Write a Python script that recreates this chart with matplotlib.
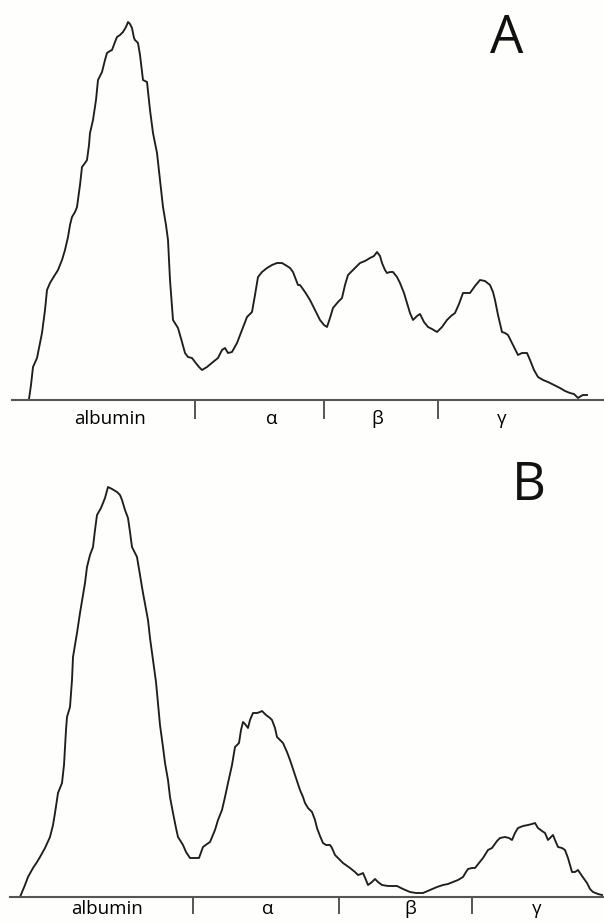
import matplotlib
matplotlib.use("Agg")
import matplotlib.pyplot as plt
from matplotlib.ticker import FixedLocator, FixedFormatter, NullFormatter

plt.rcParams['font.family'] = ['Open Sans', 'DejaVu Sans']

# ---------------- Data (migration position, densitometer height) ----------------
xA = [29, 31, 33, 37, 42, 45, 47, 50, 53, 58, 62, 65, 68, 70, 72, 75, 77, 80, 82, 85, 87, 89, 90, 93,
      96, 98, 102, 105, 107, 110, 112, 115, 117, 120, 123, 126, 128, 130, 132, 134, 135, 138, 140, 143,
      147, 150, 153, 157, 160, 163, 166, 168, 170, 173, 178, 182, 185, 188, 192, 195, 199, 202, 207, 213,
      218, 222, 225, 228, 232, 237, 242, 247, 252, 255, 258, 262, 267, 272, 277, 282, 287, 290, 293, 298,
      300, 305, 310, 315, 320, 324, 327, 330, 333, 338, 342, 345, 348, 353, 356, 360, 365, 370, 374, 377,
      380, 382, 385, 387, 390, 393, 397, 400, 404, 407, 410, 413, 417, 420, 424, 428, 432, 437, 442, 447,
      451, 455, 459, 463, 467, 470, 475, 480, 485, 490, 493, 495, 498, 502, 505, 508, 513, 518, 522, 527,
      530, 534, 538, 543, 548, 554, 560, 565, 570, 574, 578, 581, 583, 587]
yA = [1, 15, 33, 42, 67, 90, 110, 117, 122, 130, 140, 150, 163, 175, 183, 188, 193, 215, 233, 237, 240, 255, 267, 280,
      300, 320, 328, 340, 347, 349, 350, 358, 363, 365, 368, 373, 378, 376, 372, 362, 360, 357, 345, 320,
      318, 290, 267, 247, 220, 193, 175, 160, 120, 80, 72, 58, 47, 43, 42, 38, 33, 30, 33, 38,
      42, 50, 52, 47, 48, 57, 70, 83, 88, 105, 123, 128, 132, 135, 137, 137, 134, 132, 128, 115,
      115, 108, 100, 90, 80, 75, 73, 82, 92, 98, 102, 115, 125, 130, 133, 137, 139, 142, 144, 148,
      144, 137, 130, 127, 128, 128, 123, 117, 107, 97, 87, 80, 84, 86, 78, 73, 71, 68, 73, 80,
      84, 87, 96, 107, 107, 107, 114, 120, 119, 115, 108, 100, 85, 68, 67, 65, 55, 45, 47, 47,
      40, 30, 23, 20, 18, 15, 12, 9, 7, 6, 2, 4, 5, 5]

xB = [20, 25, 28, 33, 37, 40, 45, 50, 53, 55, 57, 58, 62, 64, 65, 66, 67, 70, 72, 73, 75, 77, 80, 83,
      85, 87, 90, 93, 95, 97, 101, 103, 105, 108, 112, 117, 120, 122, 125, 128, 130, 132, 137, 140,
      143, 148, 150, 153, 156, 158, 160, 163, 165, 168, 170, 173, 176, 178, 183, 186, 190, 195, 199, 203,
      207, 210, 215, 218, 222, 225, 228, 232, 235, 239, 241, 243, 245, 248, 250, 253, 257, 260, 262, 266,
      270, 272, 275, 277, 280, 283, 287, 290, 295, 300, 303, 305, 308, 312, 315, 317, 320, 323, 326, 330,
      332, 335, 338, 343, 350, 355, 358, 361, 363, 366, 368, 372, 375, 378, 382, 388, 393, 397, 403, 410,
      416, 423, 430, 437, 443, 448, 453, 458, 463, 466, 468, 472, 475, 479, 483, 488, 492, 497, 500, 505,
      509, 512, 515, 518, 523, 528, 532, 535, 538, 542, 545, 548, 550, 553, 555, 558, 562, 565, 568, 572,
      575, 578, 582, 587, 590, 593, 598, 602]
yB = [0, 12, 20, 29, 35, 40, 49, 60, 72, 84, 97, 104, 114, 132, 150, 167, 180, 190, 217, 240, 252, 264, 284, 302,
      314, 330, 342, 350, 367, 382, 389, 394, 399, 410, 408, 405, 402, 397, 387, 379, 365, 350, 340, 322,
      304, 277, 259, 237, 215, 194, 172, 150, 134, 117, 100, 84, 69, 60, 52, 45, 39, 39, 39, 50,
      53, 55, 67, 77, 87, 100, 114, 132, 150, 154, 167, 175, 173, 169, 177, 184, 184, 185, 186, 182,
      179, 177, 169, 160, 157, 154, 145, 137, 122, 107, 100, 94, 89, 85, 77, 69, 61, 54, 52, 52,
      49, 42, 39, 34, 29, 25, 22, 23, 24, 17, 12, 15, 18, 15, 12, 11, 11, 11, 8, 5,
      4, 4, 7, 10, 12, 13, 15, 17, 20, 25, 28, 29, 29, 34, 39, 47, 49, 56, 59, 60,
      59, 57, 64, 69, 71, 72, 73, 74, 69, 66, 64, 57, 59, 62, 57, 50, 49, 47, 39, 25,
      25, 27, 21, 14, 8, 5, 3, 2]

fraction_labels = ['albumin', 'α', 'β', 'γ']
boundsA = [195, 324, 438]
label_posA = [110, 272, 377, 502]
boundsB = [193, 339, 472]
label_posB = [107, 268, 410, 537]

# ---------------- Figure ----------------
W, H = 604, 922
fig = plt.figure(figsize=(W / 100, H / 100), dpi=100)
fig.patch.set_facecolor('#fefefd')

curve_color = '#1e1e1e'
axis_color = '#555555'


def setup(ax, xs, ys, bounds, label_pos, base_start, tick_len, pad):
    ax.plot(xs, ys, color=curve_color, lw=1.35, solid_joinstyle='round', clip_on=False)
    ax.set_xlim(0, W)
    ax.patch.set_alpha(0)
    for s in ['top', 'right', 'left']:
        ax.spines[s].set_visible(False)
    ax.spines['bottom'].set_position(('data', 0))
    ax.spines['bottom'].set_bounds(base_start, W)
    ax.spines['bottom'].set_color(axis_color)
    ax.spines['bottom'].set_linewidth(1.5)
    ax.set_yticks([])
    ax.xaxis.set_major_locator(FixedLocator(bounds))
    ax.xaxis.set_major_formatter(NullFormatter())
    ax.xaxis.set_minor_locator(FixedLocator(label_pos))
    ax.xaxis.set_minor_formatter(FixedFormatter(fraction_labels))
    ax.tick_params(axis='x', which='major', direction='out', length=tick_len,
                   width=1.4, color=axis_color)
    ax.tick_params(axis='x', which='minor', length=0, pad=pad, labelsize=13.5,
                   labelcolor='#000000')


axA = fig.add_axes([0, (H - 440) / H, 1, 440 / H])
axA.set_ylim(-40, 400)
setup(axA, xA, yA, boundsA, label_posA, 12, 13.7, 7)

axB = fig.add_axes([0, 0, 1, 482 / H])
axB.set_ylim(-25, 457)
setup(axB, xB, yB, boundsB, label_posB, 10, 12.2, 2.5)

fig.text(507 / W, 1 - 53 / H, 'A', fontsize=38, ha='center', va='baseline', color='#111111')
fig.text(529 / W, 1 - 500 / H, 'B', fontsize=38, ha='center', va='baseline', color='#111111')

fig.savefig('out.png', dpi=100, facecolor=fig.get_facecolor())
